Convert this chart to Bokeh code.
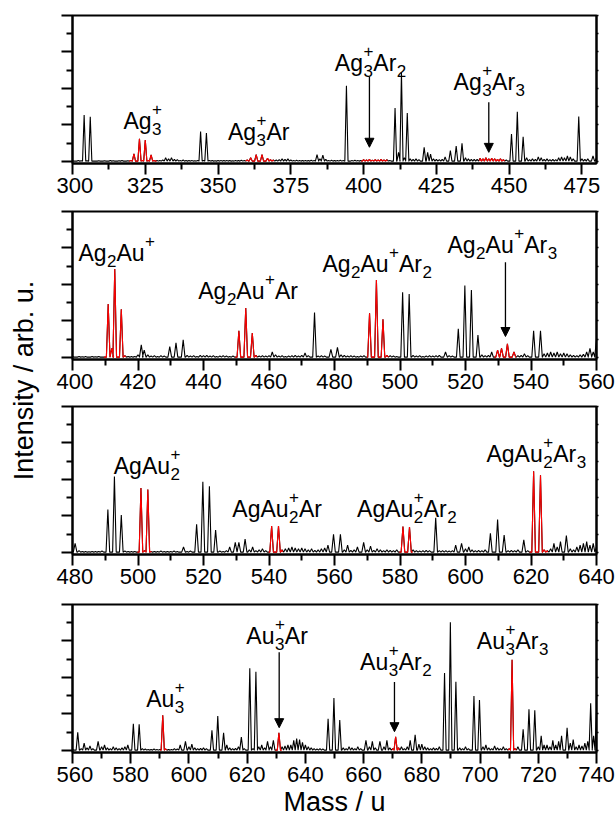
import math
from bokeh.plotting import figure
from bokeh.models import (ColumnDataSource, Range1d, LinearAxis, FixedTicker,
                          Arrow, NormalHead, Label)
from bokeh.layouts import row, column
from bokeh.embed import file_html
from bokeh.resources import INLINE
from bokeh.core.properties import value

FONT = "Liberation Sans"

# ---------------- data ----------------
# panel 1 : 300-480
p1_xrange = (300, 480)
p1_ticks = [300, 325, 350, 375, 400, 425, 450, 475]
p1_minor = [312.5, 337.5, 362.5, 387.5, 412.5, 437.5, 462.5, 487.5]
p1_grass_start = 300
p1_grass = [4, 3, 5, 4, 3, 4, 3, 5, 3, 4,
            3, 4, 3, 5, 4, 3, 4, 5, 3, 4,
            6, 8, 6, 8, 6, 8, 5, 6, 5, 6,
            6, 8, 20, 15, 20, 12, 10, 6, 8, 5,
            5, 6, 4, 6, 5, 6, 5, 6, 5, 4,
            5, 6, 5, 6, 5, 4, 6, 5, 7, 6,
            8, 10, 12, 10, 12, 10, 8, 8, 10, 8,
            8, 10, 15, 12, 15, 8, 6, 7, 6, 5,
            6, 5, 7, 6, 8, 15, 6, 12, 6, 7,
            5, 6, 7, 6, 5, 8, 6, 7, 6, 5,
            10, 8, 12, 7, 10, 8, 12, 8, 10, 6,
            6, 8, 45, 8, 20, 8, 15, 12, 15, 10,
            12, 12, 50, 40, 15, 12, 10, 12, 25, 20,
            20, 25, 20, 20, 20, 20, 15, 12, 12, 12,
            18, 15, 20, 15, 18, 15, 12, 15, 10, 8,
            10, 10, 10, 10, 10, 12, 20, 10, 15, 12,
            25, 20, 12, 15, 10, 12, 10, 20, 25, 20,
            30, 25, 15, 12, 10, 15, 12, 15, 20, 30,
            20]
p1_peak_mass = [304.0, 306.1, 321.1, 323.0, 325.0, 327.0, 344.0, 346.0, 361.2, 363.1,
                365.1, 367.0, 384.0, 386.0, 394.1, 410.8, 412.0, 413.0, 415.0, 420.8,
                429.8, 431.8, 433.8, 450.8, 452.8, 454.8, 473.9, 478.8]
p1_peak_int = [2.55, 2.45, 0.42, 1.24, 1.18, 0.36, 1.64, 1.56, 0.20, 0.37,
               0.37, 0.18, 0.38, 0.35, 4.15, 2.93, 0.50, 4.87, 2.65, 0.78,
               0.60, 0.85, 1.00, 1.50, 2.73, 1.36, 2.47, 0.30]
p1_red_lo = [319.4, 359.5, 399.2, 439.9]
p1_red_hi = [328.9, 369.0, 408.0, 448.4]
p1_label_tokens = [[("Ag", "3", "+")],
                   [("Ag", "3", "+"), ("Ar", "", "")],
                   [("Ag", "3", "+"), ("Ar", "2", "")],
                   [("Ag", "3", "+"), ("Ar", "3", "")]]
p1_label_x = [317.5, 353.4, 390.1, 430.9]
p1_label_y = [2.24, 1.60, 5.42, 4.33]
p1_arrow_x = [402.0, 443.0]
p1_arrow_y0 = [4.64, 3.24]
p1_arrow_y1 = [0.78, 0.50]

# panel 2 : 400-560
p2_xrange = (400, 560)
p2_ticks = [400, 420, 440, 460, 480, 500, 520, 540, 560]
p2_minor = [410, 430, 450, 470, 490, 510, 530, 550]
p2_grass_start = 400
p2_grass = [5, 3, 5, 4, 6, 3, 5, 4, 5, 3,
            5, 10, 50, 10, 10, 10, 10, 5, 6, 5,
            15, 70, 40, 15, 8, 10, 6, 10, 8, 10,
            60, 10, 80, 10, 97, 12, 8, 10, 6, 12,
            10, 12, 8, 10, 6, 8, 10, 8, 6, 8,
            10, 10, 10, 10, 10, 10, 12, 8, 10, 8,
            10, 30, 15, 8, 10, 6, 8, 10, 12, 8,
            12, 25, 10, 15, 10, 8, 10, 8, 12, 45,
            10, 55, 15, 12, 8, 10, 8, 6, 8, 10,
            10, 10, 10, 10, 10, 10, 12, 10, 8, 6,
            8, 10, 10, 10, 12, 8, 10, 6, 8, 10,
            8, 10, 12, 8, 30, 10, 8, 10, 10, 12,
            10, 10, 10, 10, 10, 15, 10, 12, 30, 15,
            50, 45, 20, 15, 15, 30, 10, 12, 20, 10,
            12, 10, 12, 10, 20, 25, 30, 25, 30, 20,
            25, 20, 15, 12, 10, 15, 18, 30, 50, 30,
            100]
p2_peak_mass = [410.9, 412.0, 412.9, 414.9, 421.0, 421.9, 429.7, 431.6, 433.8, 450.8,
                452.9, 454.9, 473.9, 478.9, 480.9, 490.7, 492.8, 494.8, 500.8, 502.8,
                513.9, 517.8, 519.8, 521.8, 523.8, 529.8, 531.0, 532.8, 534.8, 540.8,
                542.9, 558.0, 560.0]
p2_peak_int = [2.93, 0.50, 4.85, 2.64, 0.70, 0.40, 0.60, 0.80, 0.97, 1.47,
               2.71, 1.34, 2.47, 0.45, 0.55, 2.42, 4.25, 2.10, 3.57, 3.48,
               0.30, 1.57, 3.94, 3.70, 1.23, 0.40, 0.50, 0.75, 0.30, 1.47,
               1.47, 0.50, 1.00]
p2_red_lo = [409.6, 449.7, 489.9, 528.8]
p2_red_hi = [416.2, 456.3, 496.5, 535.4]
p2_label_tokens = [[("Ag", "2", ""), ("Au", "", "+")],
                   [("Ag", "2", ""), ("Au", "", "+"), ("Ar", "", "")],
                   [("Ag", "2", ""), ("Au", "", "+"), ("Ar", "2", "")],
                   [("Ag", "2", ""), ("Au", "", "+"), ("Ar", "3", "")]]
p2_label_x = [401.8, 438.4, 476.3, 514.5]
p2_label_y = [5.73, 3.66, 5.13, 6.14]
p2_arrow_x = [532.2]
p2_arrow_y0 = [5.22]
p2_arrow_y1 = [1.15]

# panel 3 : 480-640
p3_xrange = (480, 640)
p3_ticks = [480, 500, 520, 540, 560, 580, 600, 620, 640]
p3_minor = [490, 510, 530, 550, 570, 590, 610, 630]
p3_grass_start = 480
p3_grass = [5, 50, 10, 5, 6, 4, 5, 6, 5, 8,
            10, 10, 10, 10, 10, 10, 8, 5, 6, 5,
            5, 10, 10, 10, 6, 5, 6, 8, 6, 5,
            6, 8, 6, 8, 30, 6, 8, 5, 10, 10,
            10, 10, 10, 10, 10, 8, 6, 10, 30, 15,
            55, 55, 20, 73, 15, 30, 10, 15, 20, 10,
            10, 10, 10, 10, 15, 20, 25, 30, 25, 20,
            25, 20, 15, 20, 12, 15, 20, 25, 40, 20,
            100, 20, 100, 15, 40, 12, 15, 30, 15, 55,
            15, 35, 12, 20, 15, 10, 15, 12, 10, 15,
            10, 10, 10, 10, 15, 10, 8, 10, 12, 10,
            10, 10, 10, 10, 10, 8, 10, 40, 15, 50,
            20, 30, 15, 10, 12, 10, 15, 10, 10, 10,
            10, 10, 10, 10, 12, 10, 15, 20, 10, 10,
            10, 10, 10, 10, 15, 10, 20, 50, 30, 60,
            30, 93, 20, 15, 30, 40, 50, 60, 40, 50,
            30]
p3_peak_mass = [480.8, 490.8, 492.8, 494.9, 500.9, 503.0, 513.9, 517.9, 519.8, 521.8,
                523.7, 529.7, 530.8, 532.7, 540.8, 542.9, 559.7, 561.8, 568.9, 580.9,
                582.9, 590.9, 598.8, 607.6, 609.8, 611.8, 617.8, 620.8, 622.9, 630.8]
p3_peak_int = [0.50, 2.36, 4.17, 2.05, 3.54, 3.45, 0.30, 1.54, 3.87, 3.63,
               1.23, 0.55, 0.55, 0.73, 1.45, 1.45, 1.00, 1.00, 0.55, 1.42,
               1.40, 1.90, 0.50, 1.05, 1.81, 0.96, 0.69, 4.45, 4.23, 0.93]
p3_red_lo = [499.8, 539.9, 579.8, 619.6]
p3_red_hi = [504.0, 544.1, 583.9, 625.0]
p3_label_tokens = [[("AgAu", "2", "+")],
                   [("AgAu", "2", "+"), ("Ar", "", "")],
                   [("AgAu", "2", "+"), ("Ar", "2", "")],
                   [("AgAu", "2", "+"), ("Ar", "3", "")]]
p3_label_x = [492.6, 528.8, 566.9, 606.4]
p3_label_y = [4.72, 2.41, 2.41, 5.41]
p3_arrow_x = []
p3_arrow_y0 = []
p3_arrow_y1 = []

# panel 4 : 560-740
p4_xrange = (560, 740)
p4_ticks = [560, 580, 600, 620, 640, 660, 680, 700, 720, 740]
p4_minor = [570, 590, 610, 630, 650, 670, 690, 710, 730]
p4_grass_start = 560
p4_grass = [5, 15, 100, 10, 40, 15, 25, 10, 30, 50,
            20, 30, 15, 10, 20, 15, 10, 15, 20, 30,
            10, 10, 10, 10, 10, 8, 6, 5, 8, 6,
            6, 10, 8, 5, 6, 10, 8, 30, 15, 50,
            20, 35, 15, 10, 12, 15, 10, 30, 10, 10,
            10, 10, 10, 30, 15, 10, 12, 20, 10, 10,
            10, 10, 10, 10, 20, 30, 15, 50, 20, 55,
            10, 10, 20, 25, 30, 30, 55, 65, 60, 45,
            30, 20, 15, 10, 8, 10, 8, 6, 10, 10,
            10, 10, 10, 15, 10, 20, 15, 10, 20, 10,
            15, 55, 20, 50, 15, 25, 50, 20, 55, 15,
            10, 10, 15, 20, 10, 20, 55, 30, 86, 35,
            35, 20, 15, 10, 15, 12, 20, 30, 10, 80,
            10, 20, 10, 15, 10, 20, 10, 15, 10, 10,
            10, 20, 30, 15, 10, 25, 15, 10, 20, 10,
            10, 10, 10, 20, 30, 10, 20, 10, 20, 10,
            20, 80, 30, 30, 20, 55, 30, 50, 80, 40,
            125, 40, 60, 20, 30, 25, 40, 50, 100, 80,
            207]
p4_peak_mass = [561.8, 568.8, 580.9, 582.9, 591.0, 598.8, 607.9, 609.9, 611.9, 618.0,
                620.9, 623.0, 627.0, 629.0, 630.9, 647.8, 649.8, 651.8, 660.8, 665.6,
                671.0, 677.7, 687.8, 689.8, 691.7, 697.9, 699.8, 711.0, 714.8, 716.8,
                718.8, 729.9, 738.0, 740.0]
p4_peak_int = [1.00, 0.50, 1.47, 1.43, 1.93, 0.50, 1.10, 1.89, 0.97, 0.73,
               4.50, 4.31, 0.50, 0.55, 0.97, 1.74, 2.88, 1.67, 0.55, 0.50,
               0.75, 0.86, 4.24, 7.03, 3.76, 2.99, 2.77, 4.97, 1.16, 2.26,
               2.20, 1.25, 2.59, 2.07]
p4_red_lo = [590.1, 629.7, 669.9, 709.7]
p4_red_hi = [592.4, 631.9, 672.2, 712.4]
p4_label_tokens = [[("Au", "3", "+")],
                   [("Au", "3", "+"), ("Ar", "", "")],
                   [("Au", "3", "+"), ("Ar", "2", "")],
                   [("Au", "3", "+"), ("Ar", "3", "")]]
p4_label_x = [585.3, 619.7, 658.8, 698.9]
p4_label_y = [2.81, 6.29, 4.83, 6.02]
p4_arrow_x = [631.0, 670.6]
p4_arrow_y0 = [5.38, 3.76]
p4_arrow_y1 = [1.25, 1.03]

y_major = [0, 2, 4, 6, 8]
y_minor = [1, 3, 5, 7]

# ---------------- helpers ----------------
BASE = 0.02
MAIN = 23
SMALL = 17
SUB_DY = 8
SUP_DY = -12
ADV = {"A": 0.667, "g": 0.556, "u": 0.556, "r": 0.333,
       "2": 0.556, "3": 0.556, "+": 0.584}


def build_trace(g_start, grass, pk_m, pk_h):
    spikes = []
    for i, h in enumerate(grass):
        m = g_start + i
        if any(abs(m - pm) < 0.9 for pm in pk_m):
            continue
        spikes.append((m, h / 100.0, 0.5))
    for m, h in zip(pk_m, pk_h):
        spikes.append((m, h, 0.55))
    spikes.sort()
    xs, ys = [], []
    for m, h, w in spikes:
        xs += [m - w, m, m + w]
        ys += [BASE, h, BASE]
    return xs, ys


def red_parts(xs, ys, lo, hi):
    rx, ry = [], []
    for a, b in zip(lo, hi):
        px = [x for x in xs if a <= x <= b]
        py = [y for x, y in zip(xs, ys) if a <= x <= b]
        rx.append([a] + px + [b])
        ry.append([BASE] + py + [BASE])
    return rx, ry


def pieces(tokens):
    out = []
    xo = 0.0
    for main, sub, sup in tokens:
        out.append((main, xo, 0, MAIN))
        xo += sum(ADV[c] for c in main) * MAIN
        adv = 0.0
        if sub:
            out.append((sub, xo + 0.5, SUB_DY, SMALL))
            adv = max(adv, sum(ADV[c] for c in sub) * SMALL)
        if sup:
            out.append((sup, xo + 0.5, SUP_DY, SMALL))
            adv = max(adv, sum(ADV[c] for c in sup) * SMALL)
        xo += adv + (0.5 if adv else 0)
    return out


def make_panel(xr, ticks, minor, g_start, grass, pk_m, pk_h, red_lo, red_hi,
               lab_tok, lab_x, lab_y, ar_x, ar_y0, ar_y1, top_border, bottom_border):
    p = figure(frame_width=524, frame_height=148,
               x_range=Range1d(*xr), y_range=Range1d(-0.11, 8.0),
               output_backend="svg", toolbar_location=None,
               min_border_left=16, min_border_right=19, min_border_top=top_border,
               min_border_bottom=bottom_border)
    p.grid.visible = False
    p.outline_line_color = "black"
    p.outline_line_width = 2
    p.background_fill_color = "white"
    p.border_fill_color = "white"

    xa = p.xaxis[0]
    xa.ticker = FixedTicker(ticks=ticks, minor_ticks=minor)
    xa.axis_line_width = 2
    xa.major_tick_line_width = 2
    xa.minor_tick_line_width = 2
    xa.major_tick_out = 11
    xa.major_tick_in = 0
    xa.minor_tick_out = 6
    xa.minor_tick_in = 0
    xa.major_label_text_font = FONT
    xa.major_label_text_font_size = "22px"
    xa.major_label_text_color = "black"
    xa.major_label_standoff = 3

    ya = p.yaxis[0]
    ya.ticker = FixedTicker(ticks=y_major, minor_ticks=y_minor)
    ya.axis_line_width = 2
    ya.major_tick_line_width = 2
    ya.minor_tick_line_width = 2
    ya.major_tick_out = 11
    ya.major_tick_in = 0
    ya.minor_tick_out = 6
    ya.minor_tick_in = 0
    ya.major_label_overrides = {t: "" for t in y_major}
    ya.major_label_standoff = 0

    ra = LinearAxis(ticker=FixedTicker(ticks=y_major + y_minor, minor_ticks=[]))
    ra.axis_line_width = 2
    ra.major_tick_line_width = 1.5
    ra.major_tick_out = 2
    ra.major_tick_in = 0
    ra.minor_tick_line_color = None
    ra.major_label_overrides = {t: "" for t in y_major + y_minor}
    ra.major_label_standoff = 0
    p.add_layout(ra, "right")

    xs, ys = build_trace(g_start, grass, pk_m, pk_h)
    p.line(xs, ys, line_color="black", line_width=1.1)
    rx, ry = red_parts(xs, ys, red_lo, red_hi)
    p.multi_line(rx, ry, line_color="#ff0000", line_width=1.1)

    d = dict(x=[], y=[], text=[], xo=[], yo=[], size=[])
    for tk, lx, ly in zip(lab_tok, lab_x, lab_y):
        for t, xo, yo, sz in pieces(tk):
            d["x"].append(lx)
            d["y"].append(ly)
            d["text"].append(t)
            d["xo"].append(xo)
            d["yo"].append(yo)
            d["size"].append(f"{sz}px")
    src = ColumnDataSource(d)
    p.text(x="x", y="y", text="text", x_offset="xo", y_offset="yo",
           text_font_size="size", text_font=value(FONT), text_color="black",
           text_align="left", text_baseline="alphabetic", source=src)

    for ax_, y0, y1 in zip(ar_x, ar_y0, ar_y1):
        p.add_layout(Arrow(x_start=ax_, y_start=y0, x_end=ax_, y_end=y1,
                           line_color="black", line_width=1.3,
                           end=NormalHead(size=9, fill_color="black",
                                          line_color="black", line_width=1)))
    return p


f1 = make_panel(p1_xrange, p1_ticks, p1_minor, p1_grass_start, p1_grass,
                p1_peak_mass, p1_peak_int, p1_red_lo, p1_red_hi,
                p1_label_tokens, p1_label_x, p1_label_y,
                p1_arrow_x, p1_arrow_y0, p1_arrow_y1, 15, 41)
f2 = make_panel(p2_xrange, p2_ticks, p2_minor, p2_grass_start, p2_grass,
                p2_peak_mass, p2_peak_int, p2_red_lo, p2_red_hi,
                p2_label_tokens, p2_label_x, p2_label_y,
                p2_arrow_x, p2_arrow_y0, p2_arrow_y1, 7, 40)
f3 = make_panel(p3_xrange, p3_ticks, p3_minor, p3_grass_start, p3_grass,
                p3_peak_mass, p3_peak_int, p3_red_lo, p3_red_hi,
                p3_label_tokens, p3_label_x, p3_label_y,
                p3_arrow_x, p3_arrow_y0, p3_arrow_y1, 7, 43)
f4 = make_panel(p4_xrange, p4_ticks, p4_minor, p4_grass_start, p4_grass,
                p4_peak_mass, p4_peak_int, p4_red_lo, p4_red_hi,
                p4_label_tokens, p4_label_x, p4_label_y,
                p4_arrow_x, p4_arrow_y0, p4_arrow_y1, 7, 72)

f4.xaxis[0].axis_label = "Mass / u"
f4.xaxis[0].axis_label_text_font = FONT
f4.xaxis[0].axis_label_text_font_size = "27px"
f4.xaxis[0].axis_label_text_font_style = "normal"
f4.xaxis[0].axis_label_text_color = "black"
f4.xaxis[0].axis_label_standoff = 2

TOTAL_H = 15 + 148 + 41 + 7 + 148 + 40 + 7 + 148 + 43 + 7 + 148 + 72
ylab = figure(width=56, height=TOTAL_H, x_range=Range1d(0, 56),
              y_range=Range1d(0, TOTAL_H), output_backend="svg",
              toolbar_location=None, min_border=0,
              x_axis_type=None, y_axis_type=None)
ylab.outline_line_color = None
ylab.grid.visible = False
ylab.add_layout(Label(x=23, y=TOTAL_H - 380, text="Intensity / arb. u.",
                      angle=math.pi / 2, text_align="center",
                      text_baseline="middle", text_font=FONT,
                      text_font_size="27px", text_color="black"))

layout = row(ylab, column(f1, f2, f3, f4))
open("out.html", "w").write(file_html(layout, INLINE))
